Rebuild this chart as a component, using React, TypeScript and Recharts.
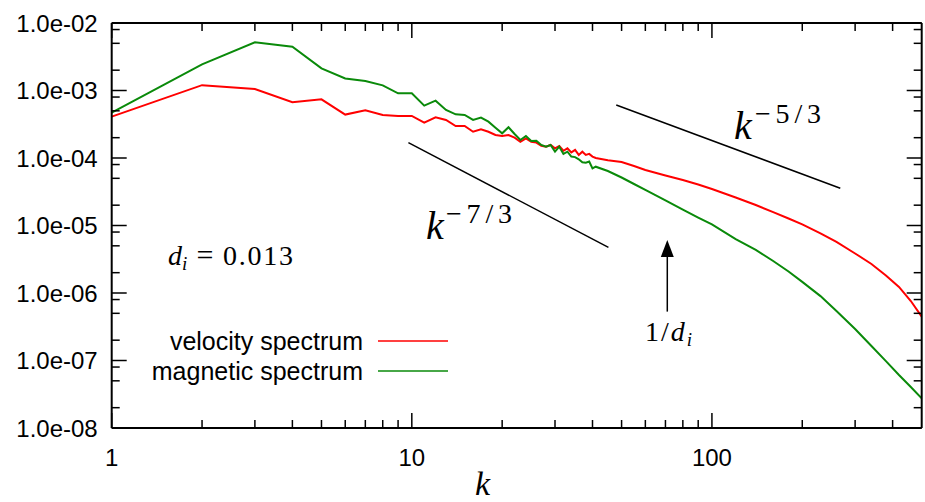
import React from 'react';
import { LineChart, Line, XAxis, YAxis, ReferenceLine, Legend, Customized } from 'recharts';

// ---- data ----
const velocityK = [1, 2, 3, 4, 5, 6, 7, 8, 9, 10, 11, 12, 13, 14, 15, 16, 17, 18, 19, 20, 21, 22, 23, 24, 25, 26, 27, 28, 29, 30, 31, 32, 33, 34, 35, 36, 37, 38, 39, 40, 41, 45, 50, 55, 60, 70, 80, 90, 100, 120, 140, 160, 180, 200, 230, 260, 300, 340, 380, 420, 460, 500];
const velocityE = [4.1e-4, 1.2e-3, 1.05e-3, 6.7e-4, 7.4e-4, 4.4e-4, 5.1e-4, 4.33e-4, 4.19e-4, 4.2e-4, 3.33e-4, 4.0e-4, 3.66e-4, 2.98e-4, 2.98e-4, 2.45e-4, 2.66e-4, 2.45e-4, 2.19e-4, 2.12e-4, 2.19e-4, 2.0e-4, 1.74e-4, 1.95e-4, 1.74e-4, 1.69e-4, 1.52e-4, 1.47e-4, 1.56e-4, 1.39e-4, 1.51e-4, 1.28e-4, 1.39e-4, 1.21e-4, 1.32e-4, 1.11e-4, 1.24e-4, 1.11e-4, 1.15e-4, 1.05e-4, 1.0e-4, 9.27e-5, 8.73e-5, 7.6e-5, 6.64e-5, 5.5e-5, 4.72e-5, 4.05e-5, 3.47e-5, 2.6e-5, 2.01e-5, 1.58e-5, 1.27e-5, 1.04e-5, 7.65e-6, 5.7e-6, 3.85e-6, 2.69e-6, 1.82e-6, 1.23e-6, 7.6e-7, 4.46e-7];

const magneticK = [1, 2, 3, 4, 5, 6, 7, 8, 9, 10, 11, 12, 13, 14, 15, 16, 17, 18, 19, 20, 21, 22, 23, 24, 25, 26, 27, 28, 29, 30, 31, 32, 33, 34, 35, 36, 37, 38, 39, 40, 41, 45, 50, 55, 60, 70, 80, 90, 100, 120, 140, 160, 180, 200, 230, 260, 300, 340, 380, 420, 460, 500];
const magneticE = [4.7e-4, 2.44e-3, 5.18e-3, 4.46e-3, 2.13e-3, 1.51e-3, 1.38e-3, 1.19e-3, 9.08e-4, 9.08e-4, 5.96e-4, 7.06e-4, 5.14e-4, 4.43e-4, 4.34e-4, 3.66e-4, 3.96e-4, 3.45e-4, 2.81e-4, 2.32e-4, 2.85e-4, 2.27e-4, 1.85e-4, 2.12e-4, 1.79e-4, 1.8e-4, 1.56e-4, 1.47e-4, 1.56e-4, 1.24e-4, 1.47e-4, 1.15e-4, 1.24e-4, 1.05e-4, 1.03e-4, 9.57e-5, 8.63e-5, 8.5e-5, 8.85e-5, 7.03e-5, 7.43e-5, 6.41e-5, 5.14e-5, 4.12e-5, 3.36e-5, 2.35e-5, 1.72e-5, 1.31e-5, 1.04e-5, 6.3e-6, 4.34e-6, 2.98e-6, 2.08e-6, 1.46e-6, 9.0e-7, 5.4e-7, 2.93e-7, 1.64e-7, 9.8e-8, 6.1e-8, 4.05e-8, 2.75e-8];

const seriesNames = ['velocity spectrum', 'magnetic spectrum'];

// power-law guide segments [k, E]
const guide73K = [9.74, 45.2];
const guide73E = [1.69e-4, 4.75e-6];
const guide53K = [48.0, 267.7];
const guide53E = [6.1e-4, 3.56e-5];

// arrow at 1/d_i
const arrowK = 71;
const arrowE = [5.3e-7, 6.1e-6];

// axes
const xDomain = [1, 500];
const yDomain = [1e-8, 1e-2];
const xMajor = [1, 10, 100];
const xMinor = [2, 3, 4, 5, 6, 7, 8, 9, 20, 30, 40, 50, 60, 70, 80, 90, 200, 300, 400];
const xLabels = ['1', '10', '100'];
const yMajor = [1e-8, 1e-7, 1e-6, 1e-5, 1e-4, 1e-3, 1e-2];
const yLabels = ['1.0e-08', '1.0e-07', '1.0e-06', '1.0e-05', '1.0e-04', '1.0e-03', '1.0e-02'];
const yMinor = [2e-8, 5e-8, 8e-8, 2e-7, 5e-7, 8e-7, 2e-6, 5e-6, 8e-6, 2e-5, 5e-5, 8e-5, 2e-4, 5e-4, 8e-4, 2e-3, 5e-3, 8e-3];

const velocityData = velocityK.map((k, i) => ({ k, e: velocityE[i] }));
const magneticData = magneticK.map((k, i) => ({ k, e: magneticE[i] }));
const xTicks = [...xMajor, ...xMinor].sort((a, b) => a - b);
const yTicks = [...yMajor, ...yMinor].sort((a, b) => a - b);

const RED = '#ff0000';
const GREEN = '#0a8a0a';
const SANS = '"Liberation Sans", Arial, sans-serif';
const SERIF = '"Liberation Serif", "Times New Roman", serif';
const TICK_FONT = 24;
const LEGEND_FONT = 25;

const isMajorX = (v: number) => xMajor.some((m) => Math.abs(m - v) < 1e-9);
const majorYIndex = (v: number) => yMajor.findIndex((m) => Math.abs(Math.log10(m) - Math.log10(v)) < 1e-6);

const BottomTick = (p: any) => {
  const { x, y, payload } = p;
  const idx = xMajor.findIndex((m) => Math.abs(m - payload.value) < 1e-9);
  const major = idx >= 0;
  return (
    <g>
      <line x1={x} x2={x} y1={y} y2={y - (major ? 15 : 8)} stroke="#000" strokeWidth={1.5} />
      {major && (
        <text x={x} y={y + 38} textAnchor="middle" fontFamily={SANS} fontSize={TICK_FONT} fill="#000">
          {xLabels[idx]}
        </text>
      )}
    </g>
  );
};
const TopTick = (p: any) => {
  const { x, y, payload } = p;
  const major = isMajorX(payload.value);
  return <line x1={x} x2={x} y1={y} y2={y + (major ? 15 : 8)} stroke="#000" strokeWidth={1.5} />;
};
const LeftTick = (p: any) => {
  const { x, y, payload } = p;
  const idx = majorYIndex(payload.value);
  const major = idx >= 0;
  return (
    <g>
      <line x1={x} x2={x + (major ? 15 : 8)} y1={y} y2={y} stroke="#000" strokeWidth={1.5} />
      {major && (
        <text x={x - 14} y={y} dy="0.36em" textAnchor="end" fontFamily={SANS} fontSize={TICK_FONT} fill="#000">
          {yLabels[idx]}
        </text>
      )}
    </g>
  );
};
const RightTick = (p: any) => {
  const { x, y, payload } = p;
  const major = majorYIndex(payload.value) >= 0;
  return <line x1={x} x2={x - (major ? 15 : 8)} y1={y} y2={y} stroke="#000" strokeWidth={1.5} />;
};

const ArrowShape = (p: any) => {
  const x1 = p.x1, y1 = p.y1, y2 = p.y2;
  const top = Math.min(y1, y2);
  const bottom = Math.max(y1, y2);
  const x = x1;
  return (
    <g>
      <line x1={x} x2={x} y1={bottom} y2={top + 14} stroke="#000" strokeWidth={1.5} />
      <polygon points={`${x},${top} ${x - 6.5},${top + 17} ${x + 6.5},${top + 17}`} fill="#000" />
    </g>
  );
};

const LegendContent = (props: any) => {
  const payload = [...(props.payload || [])].sort(
    (a: any, b: any) => seriesNames.indexOf(a.value) - seriesNames.indexOf(b.value)
  );
  return (
    <svg width={925} height={502} style={{ position: 'absolute', left: 0, top: 0 }}>
      {payload.map((entry: any, i: number) => {
        const cy = 341 + i * 30;
        return (
          <g key={i}>
            <text x={363} y={cy} dy="0.36em" textAnchor="end" fontFamily={SANS} fontSize={LEGEND_FONT} fill="#000">
              {entry.value}
            </text>
            <line x1={378} x2={448} y1={cy} y2={cy} stroke={entry.color} strokeWidth={1.5} />
          </g>
        );
      })}
    </svg>
  );
};

const Annotations = () => (
  <g fill="#000">
    <text x={426} y={239} fontFamily={SERIF} fontSize={40} fontStyle="italic">k</text>
    <text x={446} y={223} fontFamily={SERIF} fontSize={28} textLength={66} lengthAdjust="spacing">−7/3</text>
    <text x={734} y={139} fontFamily={SERIF} fontSize={40} fontStyle="italic">k</text>
    <text x={755} y={123} fontFamily={SERIF} fontSize={28} textLength={66} lengthAdjust="spacing">−5/3</text>
    <text x={168} y={265} fontFamily={SERIF} fontSize={28}>
      <tspan fontStyle="italic">d</tspan>
      <tspan fontStyle="italic" fontSize={19} dy={5}>i</tspan>
    </text>
    <text x={205} y={265} fontFamily={SERIF} fontSize={30} textAnchor="middle">=</text>
    <text x={223} y={265} fontFamily={SERIF} fontSize={28} textLength={70} lengthAdjust="spacing">0.013</text>
    <text x={645} y={341} fontFamily={SERIF} fontSize={28} letterSpacing={2}>
      <tspan>1/</tspan>
      <tspan fontStyle="italic">d</tspan>
      <tspan fontStyle="italic" fontSize={19} dy={5}>i</tspan>
    </text>
    <text x={475} y={495} fontFamily={SERIF} fontSize={34} fontStyle="italic">k</text>
  </g>
);

export default function App() {
  return (
    <div style={{ position: 'absolute', left: 0, top: 0, width: 925, height: 502, background: '#fff' }}>
      <LineChart width={925} height={502} margin={{ top: 22, right: 2.3, bottom: 73, left: 110.7 }}>
        <XAxis
          xAxisId="bottom"
          dataKey="k"
          type="number"
          scale="log"
          domain={xDomain}
          allowDataOverflow
          ticks={xTicks}
          interval={0}
          height={1}
          tickSize={0}
          tickMargin={0}
          tickLine={false}
          tick={BottomTick}
          axisLine={{ stroke: '#000', strokeWidth: 2 }}
        />
        <XAxis
          xAxisId="top"
          orientation="top"
          dataKey="k"
          type="number"
          scale="log"
          domain={xDomain}
          allowDataOverflow
          ticks={xTicks}
          interval={0}
          height={1}
          tickSize={0}
          tickMargin={0}
          tickLine={false}
          tick={TopTick}
          axisLine={{ stroke: '#000', strokeWidth: 2 }}
        />
        <YAxis
          yAxisId="left"
          type="number"
          scale="log"
          domain={yDomain}
          allowDataOverflow
          ticks={yTicks}
          interval={0}
          width={1}
          tickSize={0}
          tickMargin={0}
          tickLine={false}
          tick={LeftTick}
          axisLine={{ stroke: '#000', strokeWidth: 2 }}
        />
        <YAxis
          yAxisId="right"
          orientation="right"
          type="number"
          scale="log"
          domain={yDomain}
          allowDataOverflow
          ticks={yTicks}
          interval={0}
          width={1}
          tickSize={0}
          tickMargin={0}
          tickLine={false}
          tick={RightTick}
          axisLine={{ stroke: '#000', strokeWidth: 2 }}
        />
        <ReferenceLine
          xAxisId="top"
          yAxisId="right"
          segment={[{ x: guide73K[0], y: guide73E[0] }, { x: guide73K[1], y: guide73E[1] }]}
          stroke="#000"
          strokeWidth={1.5}
        />
        <ReferenceLine
          xAxisId="top"
          yAxisId="right"
          segment={[{ x: guide53K[0], y: guide53E[0] }, { x: guide53K[1], y: guide53E[1] }]}
          stroke="#000"
          strokeWidth={1.5}
        />
        <ReferenceLine
          xAxisId="bottom"
          yAxisId="left"
          segment={[{ x: arrowK, y: arrowE[0] }, { x: arrowK, y: arrowE[1] }]}
          shape={ArrowShape}
        />
        <Line
          xAxisId="bottom"
          yAxisId="left"
          data={velocityData}
          dataKey="e"
          name={seriesNames[0]}
          stroke={RED}
          strokeWidth={2}
          dot={false}
          activeDot={false}
          isAnimationActive={false}
        />
        <Line
          xAxisId="bottom"
          yAxisId="left"
          data={magneticData}
          dataKey="e"
          name={seriesNames[1]}
          stroke={GREEN}
          strokeWidth={2}
          dot={false}
          activeDot={false}
          isAnimationActive={false}
        />
        <Legend
          layout="horizontal"
          verticalAlign="middle"
          align="center"
          content={LegendContent}
          wrapperStyle={{ position: 'absolute', left: 0, top: 0, width: 925, height: 502, pointerEvents: 'none' }}
        />
        <Customized component={Annotations} />
      </LineChart>
    </div>
  );
}
